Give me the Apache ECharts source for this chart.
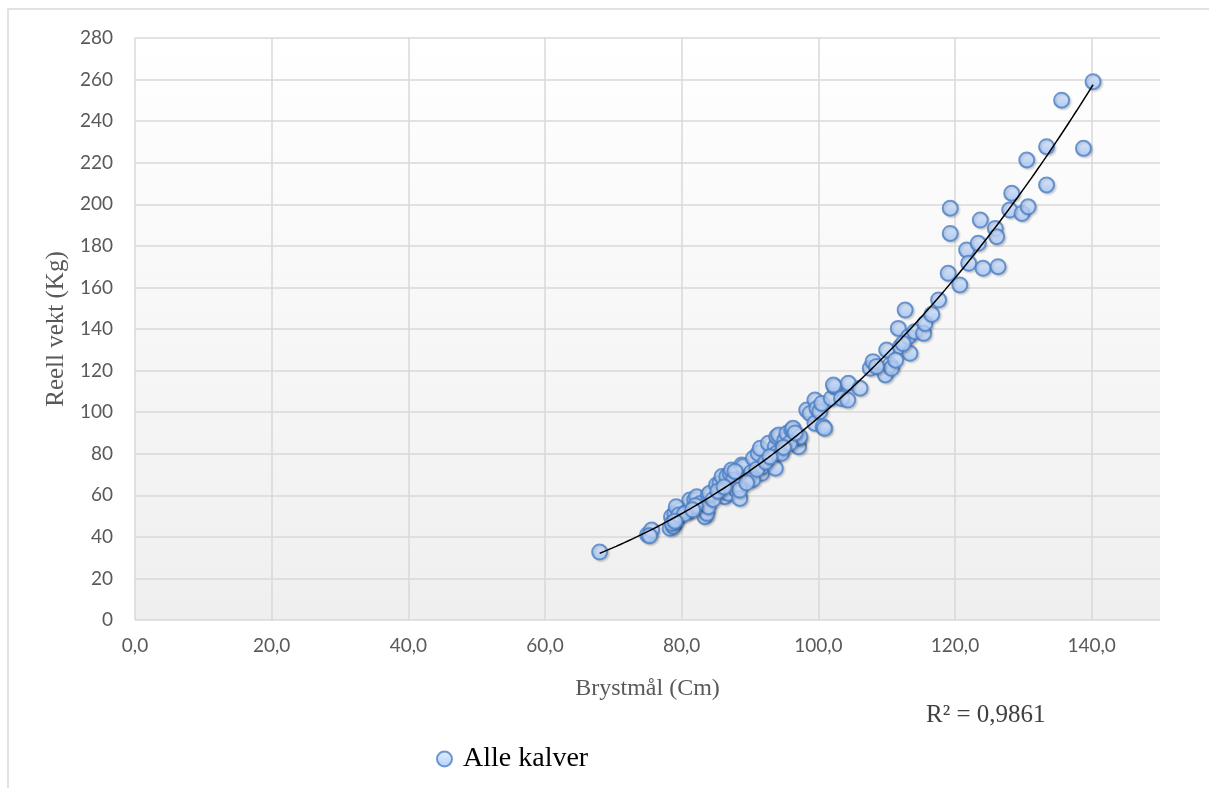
<!DOCTYPE html>
<html>
<head>
<meta charset="utf-8">
<title>Brystmål og vekt</title>
<script src="https://cdn.jsdelivr.net/npm/echarts@6/dist/echarts.min.js"></script>
<style>
  html, body { margin: 0; padding: 0; background: #ffffff; }
  #chart { width: 1209px; height: 788px; }
</style>
</head>
<body>
<div id="chart"></div>
<script>
// Brystmål (cm) for each calf
const brystmaal = [
  68.0, 75.0, 75.6, 75.3, 78.3, 78.8, 79.3, 78.5, 79.0, 79.8,
  79.2, 78.6, 79.6, 80.7, 81.2, 81.2, 81.9, 82.2, 82.7, 82.7,
  83.4, 83.7, 83.9, 83.9, 84.1, 85.1, 85.6, 85.9, 86.3, 86.6,
  86.8, 87.1, 87.3, 87.6, 88.0, 88.5, 88.5, 88.8, 89.0, 89.8,
  90.2, 90.5, 91.2, 91.5, 91.7, 91.9, 92.7, 93.7, 93.7, 93.9,
  93.9, 94.2, 94.6, 95.1, 95.4, 96.1, 96.3, 97.1, 97.1, 97.3,
  98.3, 98.8, 99.5, 99.8, 99.5, 100.2, 100.5, 100.7, 100.9, 101.9,
  102.4, 102.2, 103.4, 104.4, 106.1, 107.6, 108.0, 109.8, 110.0, 110.5,
  110.7, 111.7, 112.0, 112.7, 113.2, 113.4, 114.1, 115.4, 115.6, 116.6,
  117.6, 119.0, 119.3, 119.3, 120.7, 121.7, 122.0, 123.4, 123.7, 124.1,
  125.9, 126.1, 126.3, 128.0, 128.3, 129.8, 130.7, 130.5, 133.4, 133.4,
  135.6, 138.8, 140.2,
  84.6, 85.3, 86.2, 90.4, 91.0, 92.3, 92.9, 95.8, 96.6, 89.5,
  82.0, 80.4, 79.0, 81.6, 87.8, 94.9, 108.5, 111.3, 112.4, 104.3
];

// Reell vekt (kg) for each calf, same order
const vekt = [
  32.7, 41.0, 43.3, 40.5, 44.1, 45.0, 48.1, 49.7, 51.3, 52.9,
  54.5, 46.5, 50.5, 52.1, 52.5, 57.7, 57.7, 59.3, 54.5, 56.1,
  49.7, 51.3, 54.5, 60.1, 61.0, 65.0, 65.8, 69.0, 59.3, 69.0,
  61.0, 70.6, 72.2, 67.4, 62.5, 58.5, 62.5, 74.6, 73.8, 69.0,
  71.0, 77.8, 80.2, 82.6, 70.6, 73.8, 85.0, 73.0, 83.4, 80.2,
  88.2, 89.0, 80.2, 86.6, 89.8, 91.4, 92.2, 83.4, 87.4, 88.2,
  101.0, 99.4, 105.8, 101.8, 94.6, 100.2, 104.2, 93.0, 92.2, 106.6,
  112.2, 113.0, 106.6, 113.9, 111.5, 121.1, 124.3, 117.9, 129.9, 122.7,
  121.1, 140.3, 131.5, 149.1, 136.3, 128.3, 138.7, 137.9, 142.7, 147.0,
  154.0, 166.8, 186.0, 198.1, 161.2, 178.0, 171.6, 181.2, 192.4, 169.2,
  188.4, 184.4, 170.0, 197.2, 205.3, 195.6, 198.8, 221.3, 227.7, 209.3,
  250.1, 226.9, 259.0,
  58.0, 62.0, 64.0, 67.5, 72.5, 76.0, 78.5, 85.0, 90.0, 66.0,
  55.0, 51.0, 47.5, 53.0, 71.5, 83.0, 122.0, 125.0, 133.0, 105.8
];

const seriesName = 'Alle kalver';
const xAxisTitle = 'Brystmål (Cm)';
const yAxisTitle = 'Reell vekt (Kg)';
const rSquaredText = 'R² = 0,9861';

// Power trend line y = a * x^b, least squares in log-log space
function powerFit(xs, ys) {
  const n = xs.length;
  const lx = xs.map(Math.log), ly = ys.map(Math.log);
  const mx = lx.reduce((s, v) => s + v, 0) / n;
  const my = ly.reduce((s, v) => s + v, 0) / n;
  let sxy = 0, sxx = 0;
  for (let i = 0; i < n; i++) {
    sxy += (lx[i] - mx) * (ly[i] - my);
    sxx += (lx[i] - mx) * (lx[i] - mx);
  }
  const b = sxy / sxx;
  const a = Math.exp(my - b * mx);
  return { a, b };
}

const fit = powerFit(brystmaal, vekt);
const xMin = Math.min(...brystmaal), xMax = Math.max(...brystmaal);
const trend = [];
const steps = 120;
for (let i = 0; i <= steps; i++) {
  const x = xMin + (xMax - xMin) * i / steps;
  trend.push([x, fit.a * Math.pow(x, fit.b)]);
}

const points = brystmaal.map((x, i) => [x, vekt[i]]);

const tickFont = 'Lato, "Open Sans", sans-serif';
const serifFont = '"Liberation Serif", "DejaVu Serif", serif';
const gridColor = '#d9d9d9';

const chart = echarts.init(document.getElementById('chart'), null, { renderer: 'canvas' });

chart.setOption({
  backgroundColor: '#ffffff',
  animation: false,
  grid: {
    left: 135, right: 49, top: 38, bottom: 168,
    show: true,
    borderWidth: 0,
    backgroundColor: {
      type: 'linear', x: 0, y: 0, x2: 0, y2: 1,
      colorStops: [
        { offset: 0, color: '#ffffff' },
        { offset: 1, color: '#efefef' }
      ]
    }
  },
  xAxis: {
    type: 'value',
    min: 0, max: 150, interval: 20,
    name: xAxisTitle,
    nameLocation: 'middle',
    nameGap: 57,
    nameTextStyle: { fontFamily: serifFont, fontSize: 24, color: '#595959' },
    axisLine: { show: false },
    axisTick: { show: false },
    axisLabel: {
      showMaxLabel: false,
      margin: 16,
      fontFamily: tickFont, fontSize: 19, color: '#595959',
      formatter: v => (v % 20 === 0 ? v.toFixed(1).replace('.', ',') : '')
    },
    splitLine: {
      show: true,
      lineStyle: {
        width: 1.5,
        color: [gridColor, gridColor, gridColor, gridColor, gridColor, gridColor, gridColor, gridColor, 'rgba(0,0,0,0)']
      }
    }
  },
  yAxis: {
    type: 'value',
    min: 0, max: 280, interval: 20,
    name: yAxisTitle,
    nameLocation: 'middle',
    nameGap: 64,
    nameRotate: 90,
    nameTextStyle: { fontFamily: serifFont, fontSize: 25, color: '#595959' },
    axisLine: { show: false },
    axisTick: { show: false },
    axisLabel: { margin: 22, fontFamily: tickFont, fontSize: 19, color: '#595959' },
    splitLine: { show: true, lineStyle: { width: 1.5, color: gridColor } }
  },
  legend: {
    data: [seriesName],
    left: 431, top: 740,
    itemWidth: 15, itemHeight: 15,
    itemGap: 10,
    textStyle: { fontFamily: serifFont, fontSize: 28, color: '#000000', padding: [0, 0, 0, 6] }
  },
  series: [
    {
      name: seriesName,
      type: 'scatter',
      data: points,
      symbol: 'circle',
      symbolSize: 15,
      z: 2,
      itemStyle: {
        color: {
          type: 'linear', x: 0, y: 0, x2: 0, y2: 1,
          colorStops: [
            { offset: 0, color: '#deebff' },
            { offset: 1, color: '#a2c5fa' }
          ]
        },
        borderColor: '#4a7fc8',
        borderWidth: 2,
        shadowBlur: 2,
        shadowColor: 'rgba(0,0,0,0.18)',
        shadowOffsetX: 1.5,
        shadowOffsetY: 1.5
      },
      emphasis: { disabled: true }
    },
    {
      name: 'trend',
      type: 'line',
      data: trend,
      showSymbol: false,
      symbol: 'none',
      smooth: false,
      silent: true,
      z: 3,
      lineStyle: { color: '#000000', width: 1.5 }
    }
  ],
  graphic: [
    {
      type: 'rect',
      shape: { x: 8, y: 9, width: 1400, height: 1000 },
      style: { fill: 'none', stroke: '#d9d9d9', lineWidth: 1.5 },
      silent: true, z: -1
    },
    {
      type: 'text',
      left: 926, top: 703,
      style: { text: rSquaredText, fontFamily: serifFont, fontSize: 25, fill: '#404040' }
    }
  ]
});
</script>
</body>
</html>
